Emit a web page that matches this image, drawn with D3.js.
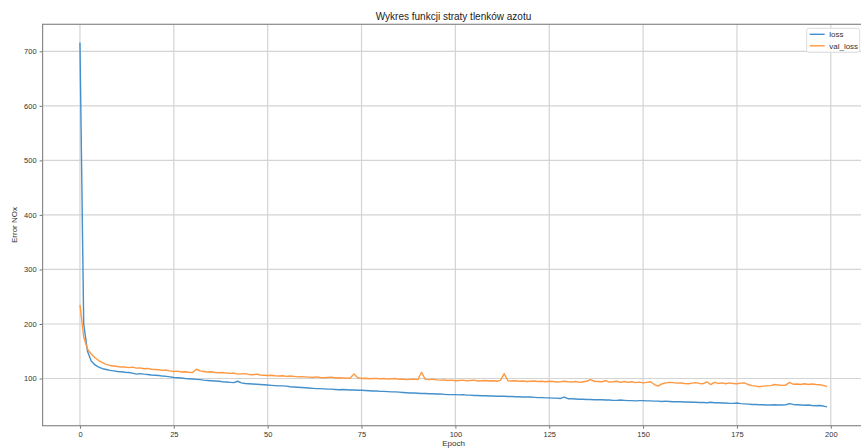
<!DOCTYPE html>
<html>
<head>
<meta charset="utf-8">
<script src="https://d3js.org/d3.v7.min.js"></script>
<style>
  body { margin: 0; background: #fff; }
  svg { display: block; font-family: "Liberation Sans", Arial, sans-serif; }
  .tick text { font-size: 7.5px; fill: #333; }
</style>
</head>
<body>
<div id="chart"></div>
<script>
// Data
var lossValues = [
  716, 200, 150, 132, 125, 121, 118, 116.5, 115, 114,
  113, 112.5, 111.5, 111, 110, 108, 109, 108, 107.5, 106.5,
  106, 105.5, 104.5, 104, 103, 102, 101.5, 101, 100, 99.5,
  99, 98.5, 98, 97, 96.5, 96, 95.5, 95, 94, 93.5,
  93, 92.5, 95, 92, 91, 90.5, 90, 89.5, 89, 88.5,
  88, 87.5, 87, 86.5, 86.5, 86, 85, 84.5, 84, 83.5,
  83, 82.5, 82, 81.5, 81.5, 81, 80.5, 80.5, 80, 79.5,
  80, 79.5, 79, 79, 78.5, 78.5, 78, 77.5, 77, 77,
  76.5, 76.5, 76, 75.5, 75.5, 75, 74.5, 74, 73.5, 73.5,
  73, 72.5, 72.5, 72, 72, 71.5, 71.5, 71, 70.5, 70.5,
  70.5, 70, 70.5, 69.5, 69.5, 69, 69, 68.5, 68.5, 68,
  68, 67.5, 67.5, 67.5, 67, 67, 66.5, 66.5, 66, 66,
  66, 65.5, 65, 65, 64.5, 64.5, 64, 64, 63.5, 66,
  63, 63, 62.5, 62, 62, 61.5, 61.5, 61, 61, 61,
  60.5, 60.5, 60, 60, 60.5, 60, 59.5, 59.5, 59, 59.5,
  59.5, 59, 59, 58.5, 58.5, 58, 58.5, 58, 57.5, 57.5,
  57.5, 57, 57, 56.5, 56.5, 56, 56, 55.5, 56.5, 55.5,
  55.5, 55, 55, 54.5, 54.5, 55, 54, 53.5, 53, 52.5,
  52.5, 52, 52, 51.5, 51.5, 52, 51.5, 51.5, 52, 54,
  52.5, 52, 51.5, 51, 51.5, 50.5, 50, 50.5, 49.5, 48
];

var valLossValues = [
  235, 176, 154, 145, 138, 133, 129, 126, 124, 123,
  122, 121, 121, 120, 121, 119, 119.5, 118, 118.5, 117,
  116.5, 116, 115, 115.5, 114, 113, 113.5, 112, 112.5, 111.5,
  111, 117, 114, 113, 112, 112.5, 111, 110.5, 111, 110,
  109.5, 110, 108, 108.5, 109, 107.5, 107, 108, 106.5, 106,
  105.5, 106, 105, 104.5, 105, 104, 104.5, 104, 103, 103.5,
  103, 102.5, 102, 103, 102, 101.5, 102, 102.5, 101, 101.5,
  101, 100.5, 101, 108.5, 101.5, 100, 100.5, 99.5, 100, 100,
  99.5, 100, 99, 99.5, 100, 98.5, 99, 98, 98.5, 99,
  98, 111.5, 98.5, 98, 99, 97.5, 97, 97.5, 96.5, 97,
  96, 96.5, 97, 96, 96.5, 97, 95.5, 96, 96.5, 95.5,
  96, 95, 96.5, 109, 96, 95.5, 96, 95, 95.5, 94.5,
  95, 95.5, 94.5, 95, 94, 95, 94.5, 93.5, 94, 95,
  94, 93.5, 94.5, 93, 94, 95, 98, 95, 94.5, 94,
  96, 93.5, 94, 95, 93, 94.5, 93, 94, 92.5, 93.5,
  92, 93, 94, 89, 86, 90, 92, 93, 92.5, 91.5,
  92, 91, 90.5, 91.5, 92.5, 91, 90.5, 94, 89, 93,
  91, 92, 90.5, 92, 91, 90.5, 91.5, 92, 89, 87,
  86, 85, 86, 86.5, 87, 89, 88, 87.5, 88, 93,
  89.5, 90, 89, 90.5, 89, 90, 89, 88.5, 87.5, 85
];

var xTicks = [0, 25, 50, 75, 100, 125, 150, 175, 200];
var yTicks = [100, 200, 300, 400, 500, 600, 700];
var seriesNames = ["loss", "val_loss"];
var seriesColors = ["#4390cc", "#ff9840"];

var svgWidth = 861;
var svgHeight = 448;

// axes box (right edge runs off the picture, as in the screenshot)
var plot = { left: 42.6, right: 864.4, top: 24.3, bottom: 425.7 };

var svg = d3.select("#chart")
  .append("svg")
  .attr("width", svgWidth)
  .attr("height", svgHeight);

svg.append("rect")
  .attr("width", svgWidth)
  .attr("height", svgHeight)
  .attr("fill", "#fff");

// scales
var xScale = d3.scaleLinear()
  .domain([-9.95, 208.95])
  .range([plot.left, plot.right]);

var yScale = d3.scaleLinear()
  .domain([13.5, 749.5])
  .range([plot.bottom, plot.top]);

// grid
var grid = svg.append("g").attr("class", "grid");

grid.selectAll(".vgrid")
  .data(xTicks)
  .enter()
  .append("line")
  .attr("x1", d => xScale(d))
  .attr("x2", d => xScale(d))
  .attr("y1", plot.top)
  .attr("y2", plot.bottom)
  .attr("stroke", "#d4d4d4")
  .attr("stroke-width", 1.2);

grid.selectAll(".hgrid")
  .data(yTicks)
  .enter()
  .append("line")
  .attr("x1", plot.left)
  .attr("x2", plot.right)
  .attr("y1", d => yScale(d))
  .attr("y2", d => yScale(d))
  .attr("stroke", "#d4d4d4")
  .attr("stroke-width", 1.2);

// lines
var line = d3.line()
  .x((d, i) => xScale(i))
  .y(d => yScale(d));

[lossValues, valLossValues].forEach(function(values, k) {
  svg.append("path")
    .datum(values)
    .attr("fill", "none")
    .attr("stroke", seriesColors[k])
    .attr("stroke-width", 1.4)
    .attr("stroke-linejoin", "round")
    .attr("d", line);
});

// axes
var xAxis = d3.axisBottom(xScale).tickValues(xTicks).tickSize(3).tickPadding(3);
var yAxis = d3.axisLeft(yScale).tickValues(yTicks).tickSize(3).tickPadding(3);

var gx = svg.append("g")
  .attr("transform", `translate(0, ${plot.bottom})`)
  .call(xAxis);

var gy = svg.append("g")
  .attr("transform", `translate(${plot.left}, 0)`)
  .call(yAxis);

[gx, gy].forEach(function(g) {
  g.select(".domain").remove();
  g.selectAll(".tick line").attr("stroke", "#777");
});

// frame
svg.append("rect")
  .attr("x", plot.left)
  .attr("y", plot.top)
  .attr("width", plot.right - plot.left)
  .attr("height", plot.bottom - plot.top)
  .attr("fill", "none")
  .attr("stroke", "#8a8a8a")
  .attr("stroke-width", 1.2);

// title and axis labels
svg.append("text")
  .attr("x", (plot.left + plot.right) / 2)
  .attr("y", 20)
  .attr("text-anchor", "middle")
  .attr("font-size", "10px")
  .attr("fill", "#222")
  .text("Wykres funkcji straty tlenków azotu");

svg.append("text")
  .attr("x", (plot.left + plot.right) / 2)
  .attr("y", 446)
  .attr("text-anchor", "middle")
  .attr("font-size", "8px")
  .attr("fill", "#333")
  .text("Epoch");

svg.append("text")
  .attr("transform", `translate(17, ${(plot.top + plot.bottom) / 2}) rotate(-90)`)
  .attr("text-anchor", "middle")
  .attr("font-size", "8px")
  .attr("fill", "#333")
  .text("Error NOx");

// legend
var legend = svg.append("g").attr("transform", "translate(806.7, 28.3)");

legend.append("rect")
  .attr("width", 53)
  .attr("height", 24)
  .attr("rx", 2)
  .attr("fill", "#fff")
  .attr("fill-opacity", 0.85)
  .attr("stroke", "#ddd");

seriesNames.forEach(function(name, k) {
  legend.append("line")
    .attr("x1", 3)
    .attr("x2", 18)
    .attr("y1", 6 + k * 11.5)
    .attr("y2", 6 + k * 11.5)
    .attr("stroke", seriesColors[k])
    .attr("stroke-width", 1.4);
  legend.append("text")
    .attr("x", 22.5)
    .attr("y", 6 + k * 11.5)
    .attr("dy", "0.35em")
    .attr("font-size", "8px")
    .attr("fill", "#333")
    .text(name);
});
</script>
</body>
</html>
